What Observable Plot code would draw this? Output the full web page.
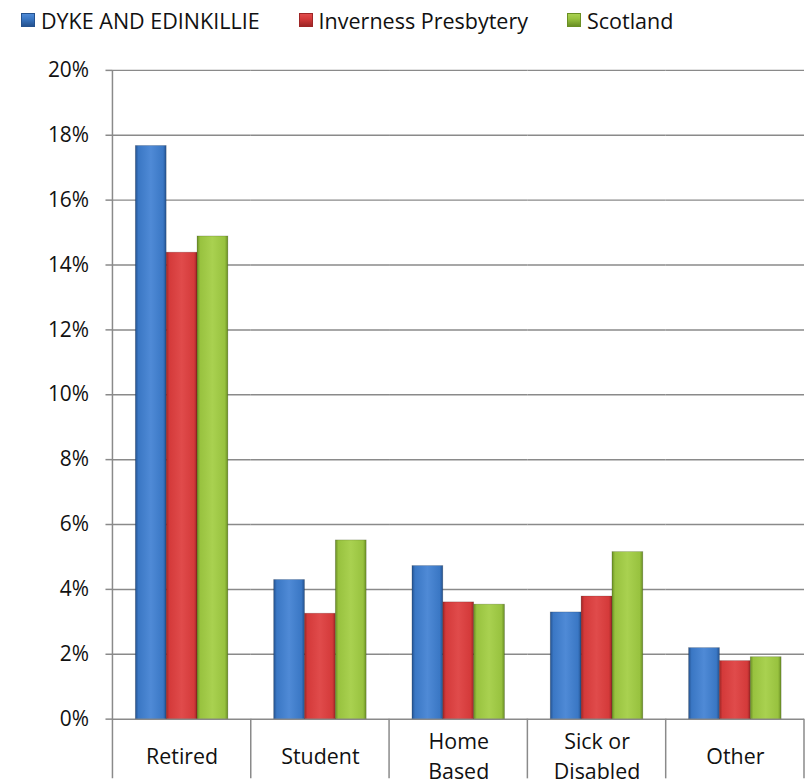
<!DOCTYPE html>
<html>
<head>
<meta charset="utf-8">
<script src="https://cdn.jsdelivr.net/npm/d3@7"></script>
<script src="https://cdn.jsdelivr.net/npm/@observablehq/plot@0.6"></script>
<style>
  html, body { margin: 0; padding: 0; background: #fff; overflow: hidden; width: 805px; height: 782px; }
  body { font-family: "Open Sans", sans-serif; color: #111; }
  #legend { height: 45px; display: flex; align-items: center; padding-left: 21px; font-size: 21.5px; box-sizing: border-box; padding-bottom: 5px; }
  .item { display: flex; align-items: center; margin-right: 39px; }
  .sw { width: 12px; height: 12px; margin-right: 6px; }
  #chart svg { display: block; overflow: visible; }
</style>
</head>
<body>
<div id="legend"></div>
<div id="chart"></div>
<script>
const categories = ["Retired", "Student", "Home\nBased", "Sick or\nDisabled", "Other"];
const seriesNames = ["DYKE AND EDINKILLIE", "Inverness Presbytery", "Scotland"];
const dykeValues = [0.1767, 0.0429, 0.0472, 0.0329, 0.0219];
const invernessValues = [0.1438, 0.0325, 0.0360, 0.0378, 0.0179];
const scotlandValues = [0.1488, 0.0551, 0.0353, 0.0515, 0.0191];
const yTicks = [0, 0.02, 0.04, 0.06, 0.08, 0.10, 0.12, 0.14, 0.16, 0.18, 0.20];

const palette = [
  {id: "gBlue", dark: "#24528f", base: "#3a77c4", light: "#4f8ad6"},
  {id: "gRed", dark: "#9e2626", base: "#d43a3a", light: "#e04b4b"},
  {id: "gGreen", dark: "#6a8f24", base: "#98c23f", light: "#a9d150"}
];

const allValues = [dykeValues, invernessValues, scotlandValues];
const data = [];
categories.forEach((c, i) => {
  seriesNames.forEach((s, j) => data.push({category: c, series: s, value: allValues[j][i]}));
});

// legend
const legend = document.getElementById("legend");
seriesNames.forEach((s, j) => {
  const p = palette[j];
  const it = document.createElement("div");
  it.className = "item";
  const sw = document.createElement("div");
  sw.className = "sw";
  sw.style.background = `linear-gradient(to bottom, ${p.light}, ${p.base} 40%, ${p.dark})`;
  sw.style.border = `1px solid ${p.dark}`;
  const tx = document.createElement("span");
  tx.textContent = s;
  it.appendChild(sw); it.appendChild(tx);
  legend.appendChild(it);
});

const gridColor = "#8a8a8a";
const chart = Plot.plot({
  width: 809,
  height: 737,
  marginTop: 25,
  marginBottom: 60,
  marginLeft: 112,
  marginRight: 0.5,
  style: {fontFamily: "Open Sans, sans-serif", fontSize: "21px", color: "#111", background: "transparent"},
  fx: {domain: categories, paddingInner: 0, paddingOuter: 0, label: null},
  x: {domain: seriesNames, paddingInner: 0, paddingOuter: 0.705, axis: null},
  y: {domain: [0, 0.2], label: null},
  color: {domain: seriesNames, range: palette.map(p => `url(#${p.id})`)},
  marks: [
    Plot.gridY(yTicks, {stroke: gridColor, strokeOpacity: 1, strokeWidth: 1.5}),
    Plot.axisY(yTicks, {tickFormat: d3.format(".0%"), tickSize: 7, tickPadding: 17, stroke: gridColor, strokeWidth: 1.5, label: null, fontSize: 21}),
    Plot.axisFx({anchor: "bottom", tickSize: 0, tickPadding: 35, lineAnchor: "middle", lineHeight: 1.4, label: null, fontSize: 21.5}),
    Plot.barY(data, {fx: "category", x: "series", y: "value", fill: "series", stroke: "#00000033", strokeWidth: 0.8})
  ]
});

document.getElementById("chart").appendChild(chart);

// gradient definitions for bevelled bars
const svg = d3.select(chart);
const defs = svg.insert("defs", ":first-child");
palette.forEach(p => {
  const g = defs.append("linearGradient").attr("id", p.id).attr("x1", "0").attr("x2", "1").attr("y1", "0").attr("y2", "0");
  [[0, p.dark], [0.1, p.base], [0.5, p.light], [0.9, p.base], [1, p.dark]].forEach(([o, c]) =>
    g.append("stop").attr("offset", o).attr("stop-color", c));
});

// category separators and axis line below the plot, from the library's scales
const fx = chart.scale("fx");
const yScale = chart.scale("y");
const y0 = yScale.apply(0);
const yTop = yScale.apply(0.2);
const bw = fx.bandwidth;
const edges = categories.map(c => fx.apply(c)).concat([fx.apply(categories[categories.length - 1]) + bw]);
const sep = svg.append("g").attr("stroke", gridColor).attr("stroke-width", 1.5);
edges.forEach((x, i) => {
  sep.append("line").attr("x1", x).attr("x2", x).attr("y1", i === 0 ? yTop : y0).attr("y2", 737);
});
</script>
</body>
</html>
